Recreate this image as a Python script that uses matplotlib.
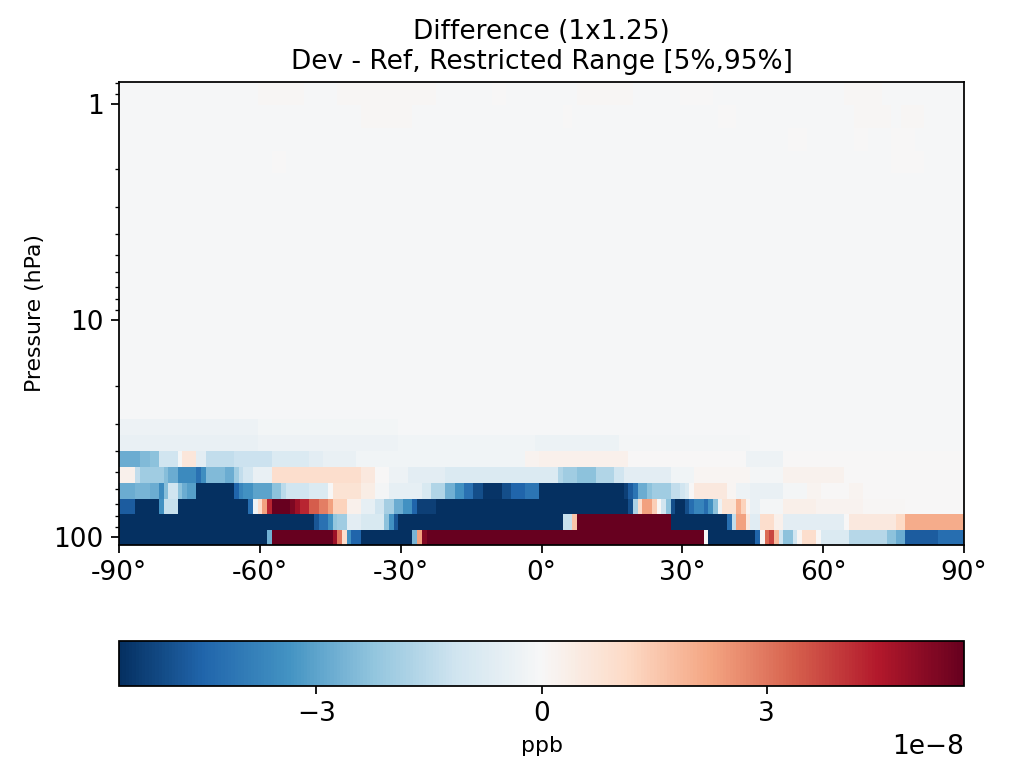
import numpy as np
import matplotlib
matplotlib.use("Agg")
import matplotlib.pyplot as plt
from matplotlib.ticker import ScalarFormatter, FixedLocator, NullFormatter

# GEOS-Chem 72-level edge pressures (hPa), level 35 edge up to level 60 edge
p_edges = [108.663, 92.3657, 78.5123, 66.6034, 56.3879, 47.6439, 40.1754,
           33.8100, 28.3678, 23.7304, 19.7916, 16.4571, 13.6434, 11.2769,
           9.2929, 7.6198, 6.2168, 5.0468, 4.0766, 3.2764, 2.6202, 2.0850,
           1.6508, 1.3005, 1.0194, 0.7951]

# 1 degree latitude grid with half polar boxes
lat_centers = np.arange(-90, 91)
lat_edges = np.concatenate(([-90.0], np.arange(-89.5, 90.0, 1.0), [90.0]))

# Each level: (first latitude of run, difference in 1e-8 ppb)
lev35 = [(-90, -6), (-58, -2.7), (-57, 6), (-44, 4.8), (-43, 3.0), (-42, 1.0),
         (-41, -3.4), (-40, -4.5), (-38, -6), (-27, -2.6), (-26, 2.3),
         (-25, 5.2), (-24, 6), (35, 0.0), (36, -6), (46, -4.5), (47, 0.1),
         (48, 3.2), (49, 3.8), (50, 1.8), (51, -1.1), (52, -2.3), (54, -1.1),
         (55, 0.1), (56, 1.0), (59, 0.0), (60, -0.8), (66, -1.6), (74, -2.3),
         (76, -2.8), (78, -4.7), (85, -4.3)]
lev36 = [(-90, -6), (-48, -4.8), (-47, -4.2), (-45, -3.4), (-44, -2.2),
         (-43, -2.0), (-41, -0.6), (-38, -0.9), (-33, -2.3), (-32, -3.4),
         (-31, -4.8), (-30, -6), (5, -1.3), (7, 1.6), (8, 6), (28, -6),
         (40, -4.3), (41, -1.4), (42, 2.3), (44, 0.6), (45, -0.7), (47, 1.0),
         (50, 0.3), (52, -0.6), (65, 0.0), (66, 0.6), (76, 1.1), (78, 2.1)]
lev37 = [(-90, -4.7), (-86, -6), (-81, -3.4), (-80, -1.3), (-77, -6),
         (-62, -4.3), (-61, -0.3), (-60, 1.0), (-59, 2.3), (-58, 4.3),
         (-57, 6), (-53, 5.3), (-52, 4.8), (-51, 4.3), (-49, 3.4), (-47, 2.9),
         (-45, 2.3), (-44, 1.3), (-41, 0.3), (-38, -0.5), (-35, -1.1),
         (-33, -1.9), (-31, -2.8), (-29, -3.4), (-27, -4.5), (-26, -5.3),
         (-22, -6), (19, -5.0), (20, -1.8), (21, 1.0), (22, 2.3), (24, 1.4),
         (25, 0.0), (26, -1.1), (27, -2.3), (28, -5.0), (29, -6), (31, -5.0),
         (32, -4.3), (33, -3.7), (35, -4.3), (36, -3.4), (37, -2.3),
         (38, -0.3), (39, 0.8), (42, 2.0), (43, 1.3), (44, 0.1), (45, -0.4),
         (47, -0.1), (52, 0.35), (59, 0.2), (69, 0.05), (78, 0.0)]
lev38 = [(-90, -2.8), (-86, -2.6), (-83, -2.8), (-81, -3.6), (-80, -2.4),
         (-79, -1.1), (-77, -2.3), (-76, -2.8), (-75, -3.1), (-73, -6),
         (-65, -4.5), (-64, -3.7), (-63, -3.4), (-61, -3.0), (-57, -2.3),
         (-55, -1.5), (-54, -1.1), (-49, -0.8), (-45, 0.0), (-44, 0.8),
         (-38, 0.4), (-35, -0.1), (-32, -0.5), (-25, -0.9), (-23, -1.7),
         (-20, -2.7), (-18, -3.4), (-16, -4.2), (-14, -5.0), (-12, -5.5),
         (-8, -5.0), (-6, -4.5), (-3, -4.1), (0, -5.6), (1, -6), (18, -5.3),
         (19, -4.7), (20, -4.1), (21, -2.8), (23, -2.3), (24, -2.0),
         (28, -1.4), (30, -1.1), (31, -0.8), (32, 0.0), (33, 0.6), (40, 0.1),
         (42, -0.3), (45, -0.4), (52, -0.1), (57, 0.15), (60, 0.0),
         (66, 0.15), (69, 0.0)]
lev39 = [(-90, 0.3), (-86, -1.4), (-85, -2.0), (-80, -2.4), (-79, -2.8),
         (-77, -3.6), (-73, -4.2), (-72, -3.5), (-71, -2.5), (-67, -2.8),
         (-65, -2.0), (-64, -1.4), (-63, -1.0), (-61, -0.4), (-57, 1.0),
         (-38, 0.6), (-35, 0.0), (-32, -0.3), (-28, -0.6), (-20, -0.8),
         (4, -1.7), (5, -2.0), (8, -2.3), (12, -1.7), (16, -1.1), (18, -0.6),
         (28, -0.2), (33, 0.1), (45, -0.1), (52, 0.25), (65, 0.0)]
lev40 = [(-90, -2.8), (-85, -2.5), (-83, -2.3), (-81, -1.1), (-77, -0.1),
         (-76, 0.7), (-73, -0.6), (-71, -1.4), (-65, -1.2), (-57, -0.8),
         (-49, -0.6), (-46, -0.4), (-39, -0.2), (-3, 0.2), (0, 0.3),
         (19, 0.0), (44, -0.3), (52, 0.0)]
lev41 = [(-90, -0.4), (-60, -0.3), (-30, -0.2), (-1, -0.35), (17, -0.1),
         (45, -0.05)]
lev42 = [(-90, -0.3), (-60, -0.15), (-30, -0.05)]

# levels 43-59 are near zero, with a few faint patches
upper_base = -0.05
upper_patches = [(59, -60, -51, 0.05), (59, -43, -23, 0.05), (59, -10, -8, 0.04),
                 (59, 8, 19, 0.05), (59, 30, 36, 0.04), (59, 65, 72, 0.05),
                 (58, -38, -28, 0.05), (58, 5, 6, 0.04), (58, 38, 41, 0.04),
                 (58, 67, 74, 0.05), (58, 77, 81, 0.05),
                 (57, 53, 56, 0.04), (57, 67, 69, 0.04), (57, 75, 79, 0.04),
                 (56, -57, -55, 0.04), (56, 75, 81, 0.04)]

cb_min, cb_max = -5.63e-8, 5.63e-8
lat_ticks = [-90, -60, -30, 0, 30, 60, 90]
lat_labels = ["-90°", "-60°", "-30°", "0°", "30°", "60°", "90°"]


def expand(segments):
    row = np.zeros(lat_centers.size)
    for start, val in segments:
        row[lat_centers >= start] = val
    return row


def build_field():
    rows = [expand(s) for s in [lev35, lev36, lev37, lev38, lev39, lev40,
                                lev41, lev42]]
    n_upper = len(p_edges) - 1 - len(rows)
    for i in range(n_upper):
        rows.append(np.full(lat_centers.size, upper_base))
    field = np.array(rows)
    for lev, lat0, lat1, val in upper_patches:
        k = lev - 35
        field[k, (lat_centers >= lat0) & (lat_centers <= lat1)] = val
    return field * 1e-8


def main():
    data = build_field()

    dpi = 158.3
    fig = plt.figure(figsize=(1013 / dpi, 765 / dpi), dpi=dpi)
    ax = fig.add_axes([0.1175, 0.2876, 0.8342, 0.6052])
    cax = fig.add_axes([0.1175, 0.1033, 0.8342, 0.0588])

    mesh = ax.pcolormesh(lat_edges, p_edges, data, cmap="RdBu_r",
                         vmin=cb_min, vmax=cb_max, shading="flat")
    ax.set_yscale("log")
    ax.set_ylim(p_edges[0], p_edges[-1])
    ax.set_xlim(-90, 90)
    ax.yaxis.set_major_locator(FixedLocator([1, 10, 100]))
    ax.yaxis.set_major_formatter(ScalarFormatter())
    ax.yaxis.set_minor_formatter(NullFormatter())
    ax.set_xticks(lat_ticks)
    ax.set_xticklabels(lat_labels)
    ax.tick_params(labelsize=12)
    ax.set_ylabel("Pressure (hPa)", fontsize=10)
    ax.set_title("Difference (1x1.25)\nDev - Ref, Restricted Range [5%,95%]",
                 fontsize=12)

    cb = fig.colorbar(mesh, cax=cax, orientation="horizontal")
    cb.set_ticks([-3e-8, 0, 3e-8])
    cb.ax.tick_params(labelsize=12)
    cb.ax.xaxis.get_offset_text().set_fontsize(12)
    cb.set_label("ppb", fontsize=10)

    fig.savefig("out.png", dpi=dpi)


if __name__ == "__main__":
    main()
